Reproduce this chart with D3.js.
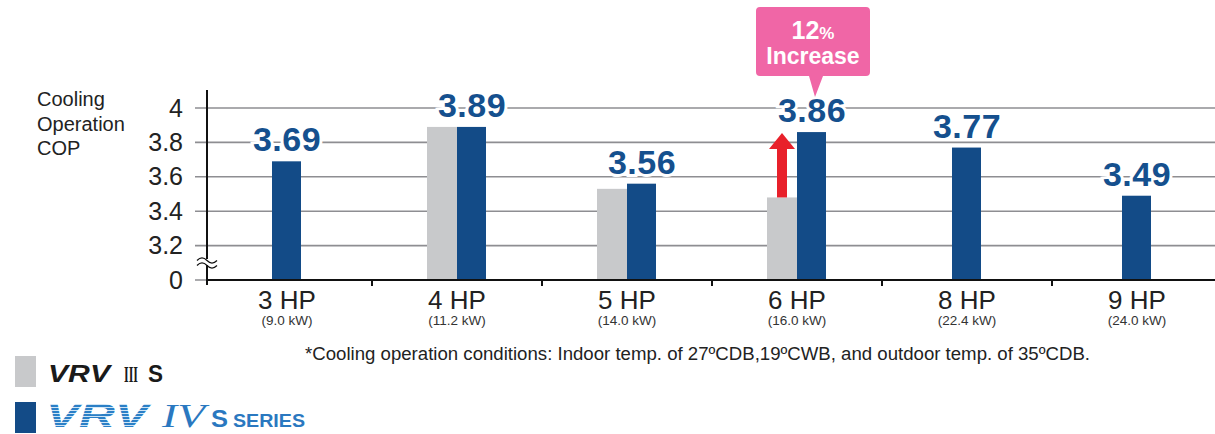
<!DOCTYPE html>
<html>
<head>
<meta charset="utf-8">
<script src="https://cdn.jsdelivr.net/npm/d3@7"></script>
<style>
body { margin: 0; background: #fff; }
svg { font-family: Arial, "Liberation Sans", Helvetica, sans-serif; }
</style>
</head>
<body>
<svg width="1215" height="434"></svg>
<script>
// data
const categories = ["3 HP", "4 HP", "5 HP", "6 HP", "8 HP", "9 HP"];
const capacities = ["(9.0 kW)", "(11.2 kW)", "(14.0 kW)", "(16.0 kW)", "(22.4 kW)", "(24.0 kW)"];
const vrv3s = [null, 3.89, 3.53, 3.48, null, null];
const vrv4s = [3.69, 3.89, 3.56, 3.86, 3.77, 3.49];
const yTicks = [3, 3.2, 3.4, 3.6, 3.8, 4];
const yTickLabels = ["0", "3.2", "3.4", "3.6", "3.8", "4"];

const grayColor = "#c8c9cb";
const blueColor = "#134b87";
const labelColor = "#15508e";
const pink = "#f066a6";
const gridColor = "#8e8e92";
const sans = "Arial, 'Liberation Sans', sans-serif";
const serif = "'Liberation Serif', 'DejaVu Serif', serif";

const svg = d3.select("svg");
const W = 1215;

// scales
const x = d3.scaleBand().domain(categories).range([202, 1222]);
const y = d3.scaleLinear().domain([3, 4]).range([280, 108]);
const barW = 30;
const axisX = 207;

// gridlines
svg.append("g").selectAll("line")
    .data(yTicks)
    .enter().append("line")
    .attr("x1", 195).attr("x2", W)
    .attr("y1", d => y(d)).attr("y2", d => y(d))
    .attr("stroke", gridColor)
    .attr("stroke-width", 1.6);

// y tick labels
svg.append("g")
    .attr("transform", "translate(" + axisX + ",0)")
    .call(d3.axisLeft(y).tickValues(yTicks).tickSize(0).tickPadding(24)
        .tickFormat((d, i) => yTickLabels[i]))
    .call(g => g.select(".domain").remove())
    .attr("font-family", sans)
    .selectAll("text")
    .attr("font-size", 25)
    .attr("fill", "#222");

// y title
svg.append("text")
    .attr("x", 37).attr("y", 106)
    .attr("font-size", 20).attr("fill", "#222")
    .selectAll("tspan")
    .data(["Cooling", "Operation", "COP"])
    .enter().append("tspan")
    .attr("x", 37)
    .attr("dy", (d, i) => i ? 24.5 : 0)
    .text(d => d);

// bars
const rows = categories.map((c, i) => ({c: c, kw: capacities[i], a: vrv3s[i], b: vrv4s[i]}));

const cx = d => x(d.c) + x.bandwidth() / 2;
const blueX = d => d.a == null ? cx(d) - barW / 2 : cx(d);

svg.append("g").selectAll("rect")
    .data(rows.filter(d => d.a != null))
    .enter().append("rect")
    .attr("x", d => cx(d) - barW)
    .attr("width", barW)
    .attr("y", d => y(d.a))
    .attr("height", d => y(3) - y(d.a))
    .attr("fill", grayColor);

svg.append("g").selectAll("rect")
    .data(rows)
    .enter().append("rect")
    .attr("x", blueX)
    .attr("width", barW - 1)
    .attr("y", d => y(d.b))
    .attr("height", d => y(3) - y(d.b))
    .attr("fill", blueColor);

// value labels
svg.append("g").selectAll("text")
    .data(rows)
    .enter().append("text")
    .attr("x", d => blueX(d) + barW / 2)
    .attr("y", d => y(d.b) - 10)
    .attr("text-anchor", "middle")
    .attr("font-size", 34)
    .attr("font-weight", "bold")
    .attr("letter-spacing", 0.5)
    .attr("fill", labelColor)
    .attr("stroke", "#fff")
    .attr("stroke-width", 6)
    .attr("paint-order", "stroke")
    .text(d => d.b.toFixed(2));

// axes lines
svg.append("line")
    .attr("x1", axisX).attr("x2", W)
    .attr("y1", y(3)).attr("y2", y(3))
    .attr("stroke", "#111").attr("stroke-width", 2);
svg.append("line")
    .attr("x1", axisX).attr("x2", axisX)
    .attr("y1", 90).attr("y2", y(3) + 5)
    .attr("stroke", "#111").attr("stroke-width", 2);

// category boundary ticks
svg.append("g").selectAll("line")
    .data(categories.slice(1))
    .enter().append("line")
    .attr("x1", d => x(d)).attr("x2", d => x(d))
    .attr("y1", y(3)).attr("y2", y(3) + 6)
    .attr("stroke", "#111").attr("stroke-width", 2);

// axis break
const brY = 262;
svg.append("rect").attr("x", axisX - 4).attr("y", brY - 3).attr("width", 8).attr("height", 6).attr("fill", "#fff");
[-2.5, 2.5].forEach(o => {
    svg.append("path")
        .attr("d", "M" + (axisX - 10) + "," + (brY + o + 1) +
            " q5,-5 10,0 t10,0")
        .attr("fill", "none").attr("stroke", "#111").attr("stroke-width", 1.2);
});

// x labels
const xl = svg.append("g").selectAll("g")
    .data(rows)
    .enter().append("g")
    .attr("transform", d => "translate(" + cx(d) + ",0)");
xl.append("text")
    .attr("y", 309).attr("text-anchor", "middle")
    .attr("font-size", 26).attr("fill", "#222")
    .text(d => d.c);
xl.append("text")
    .attr("y", 325).attr("text-anchor", "middle")
    .attr("font-size", 13.5).attr("fill", "#333")
    .text(d => d.kw);

// 12% increase arrow and callout
const r6 = rows[3];
const arrowX = cx(r6) - barW / 2;
const top6 = y(r6.b), bot6 = y(r6.a);
svg.append("rect")
    .attr("x", arrowX - 5).attr("width", 10)
    .attr("y", top6 + 15).attr("height", bot6 - top6 - 15)
    .attr("fill", "#e8202a");
svg.append("path")
    .attr("d", "M" + (arrowX - 13) + "," + (top6 + 17) + " L" + arrowX + "," + (top6 + 1) +
        " L" + (arrowX + 13) + "," + (top6 + 17) + " Z")
    .attr("fill", "#e8202a");

const cb = {x: blueX(r6) + barW / 2 + 1};
svg.append("path")
    .attr("d", "M" + (cb.x - 53) + ",7 h106 a4,4 0 0 1 4,4 v61 a4,4 0 0 1 -4,4 h-43" +
        " l-8,21 l-6,-21 h-49 a4,4 0 0 1 -4,-4 v-61 a4,4 0 0 1 4,-4 Z")
    .attr("fill", pink);
const ct = svg.append("text")
    .attr("x", cb.x).attr("y", 39)
    .attr("text-anchor", "middle")
    .attr("font-weight", "bold").attr("fill", "#fff");
ct.append("tspan").attr("font-size", 25).text("12");
ct.append("tspan").attr("font-size", 17).text("%");
svg.append("text")
    .attr("x", cb.x).attr("y", 64)
    .attr("text-anchor", "middle")
    .attr("font-size", 23).attr("font-weight", "bold").attr("fill", "#fff")
    .text("Increase");

// footnote
svg.append("text")
    .attr("x", 305).attr("y", 360)
    .attr("font-size", 17.5).attr("fill", "#222")
    .attr("textLength", 785).attr("lengthAdjust", "spacingAndGlyphs")
    .text("*Cooling operation conditions: Indoor temp. of 27ºCDB,19ºCWB, and outdoor temp. of 35ºCDB.");

// legend
const defs = svg.append("defs");
const pat = defs.append("pattern")
    .attr("id", "stripes").attr("patternUnits", "userSpaceOnUse")
    .attr("width", 10).attr("height", 3);
pat.append("rect").attr("width", 10).attr("height", 3).attr("fill", "#cfe4f5");
pat.append("rect").attr("width", 10).attr("height", 2).attr("fill", "#2b7fc6");

svg.append("rect").attr("x", 15).attr("y", 356).attr("width", 21).attr("height", 31).attr("fill", grayColor);
svg.append("rect").attr("x", 15).attr("y", 402).attr("width", 21).attr("height", 31).attr("fill", blueColor);

const legText = (xp, yp, txt, size, w, opts) => {
    const t = svg.append("text").attr("x", xp).attr("y", yp)
        .attr("font-size", size).attr("font-weight", "bold")
        .attr("textLength", w).attr("lengthAdjust", "spacingAndGlyphs")
        .text(txt);
    Object.keys(opts).forEach(k => t.attr(k, opts[k]));
    return t;
};
legText(48, 382, "VRV", 24, 62, {"font-style": "italic", fill: "#1a1a1a"});
legText(124, 382, "III", 24, 14, {"font-family": serif, fill: "#1a1a1a"});
legText(148, 382, "S", 24, 15, {fill: "#1a1a1a"});

legText(46, 427, "VRV", 33, 102, {"font-style": "italic", fill: "url(#stripes)"});
legText(162, 427, "IV", 33, 43, {"font-style": "italic", "font-weight": "normal",
    "font-family": serif, fill: "#2a78c0"});
legText(211, 427, "S", 24, 17, {fill: "#2a78c0"});
legText(233, 427, "SERIES", 18, 72, {fill: "#2a78c0"});
</script>
</body>
</html>
